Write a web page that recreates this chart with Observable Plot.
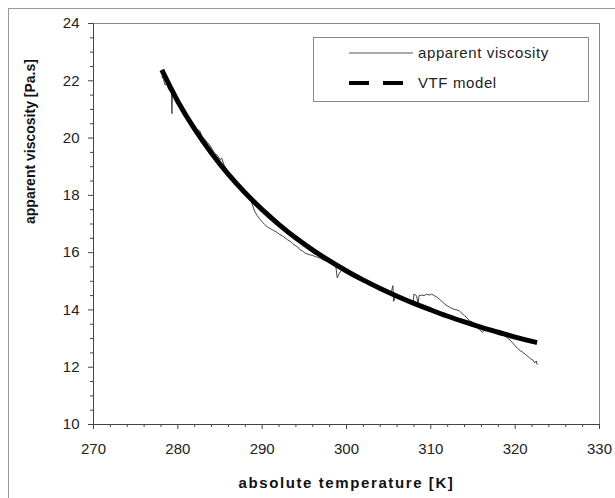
<!DOCTYPE html>
<html>
<head>
<meta charset="utf-8">
<script src="https://cdn.jsdelivr.net/npm/d3@7"></script>
<script src="https://cdn.jsdelivr.net/npm/@observablehq/plot@0.6"></script>
<style>
  html, body { margin: 0; padding: 0; background: #fff; overflow: hidden; width: 615px; height: 498px; }
  #wrap { position: relative; width: 615px; height: 498px; }
  #outer { position: absolute; left: 8px; top: 8px; width: 700px; height: 600px; border-left: 1px solid #999; border-top: 1px solid #999; }
  #chart { position: absolute; left: 0; top: 0; }
  #legend { position: absolute; left: 313px; top: 37px; width: 274px; height: 63px; border: 1px solid #888; background: #fff;
            font-family: "Liberation Sans", Arial, sans-serif; font-size: 15px; color: #222; letter-spacing: 0.6px; }
  #legend svg { position: absolute; left: 0; top: 0; }
</style>
</head>
<body>
<div id="wrap">
  <div id="outer"></div>
  <div id="chart"></div>
  <div id="legend"></div>
</div>
<script>
const tempK = [278.1,278.3,278.5,278.7,278.9,279.1,279.25,279.3,279.35,279.6,279.9,280.2,280.5,280.8,281.1,281.4,281.7,282.0,282.3,282.6,282.9,283.2,283.5,283.8,284.1,284.4,284.7,285.0,285.2,285.5,285.8,286.1,286.4,286.7,287.0,287.3,287.6,287.9,288.2,288.5,288.8,289.1,289.4,289.7,290.0,290.3,290.6,290.9,291.2,291.5,291.8,292.1,292.4,292.7,293.0,293.3,293.6,293.9,294.2,294.5,294.8,295.1,295.4,295.7,296.0,296.3,296.6,296.9,297.2,297.5,297.8,298.1,298.4,298.7,298.9,299.1,299.3,299.6,299.9,300.2,300.5,300.8,301.1,301.4,301.7,302.0,302.3,302.6,302.9,303.2,303.5,303.8,304.1,304.4,304.7,305.0,305.3,305.5,305.6,305.8,306.1,306.4,306.7,307.0,307.3,307.6,307.9,308.0,308.3,308.5,308.6,308.9,309.2,309.5,309.8,310.1,310.4,310.7,311.0,311.3,311.6,311.9,312.2,312.5,312.8,313.1,313.4,313.7,314.0,314.3,314.6,314.9,315.2,315.5,315.8,316.1,316.4,316.7,317.0,317.3,317.6,317.9,318.2,318.5,318.8,319.1,319.4,319.7,320.0,320.3,320.6,320.9,321.2,321.5,321.8,322.1,322.3,322.5,322.6];
const viscosity = [22.15,22.05,21.85,21.9,21.7,21.65,21.6,20.85,21.55,21.5,21.35,21.2,21.05,20.95,20.8,20.65,20.5,20.4,20.3,20.25,20.05,19.95,19.85,19.75,19.6,19.45,19.4,19.25,19.3,19.05,18.9,18.75,18.6,18.5,18.4,18.3,18.2,18.1,18.0,17.95,17.7,17.45,17.3,17.18,17.08,16.98,16.9,16.85,16.8,16.75,16.7,16.63,16.58,16.52,16.45,16.4,16.32,16.25,16.2,16.1,16.05,15.98,15.95,15.92,15.9,15.86,15.84,15.8,15.75,15.72,15.7,15.68,15.66,15.6,15.12,15.25,15.35,15.42,15.38,15.3,15.25,15.2,15.15,15.1,15.05,15.02,14.98,14.95,14.9,14.87,14.82,14.78,14.75,14.7,14.66,14.62,14.6,14.85,14.3,14.5,14.45,14.4,14.38,14.35,14.32,14.28,14.25,14.55,14.5,14.2,14.5,14.52,14.5,14.55,14.52,14.55,14.5,14.45,14.38,14.3,14.22,14.15,14.1,14.05,14.02,14.0,13.96,13.88,13.8,13.72,13.62,13.58,13.5,13.4,13.3,13.22,13.3,13.28,13.25,13.22,13.2,13.16,13.14,13.12,13.08,13.02,12.95,12.85,12.75,12.65,12.58,12.52,12.45,12.38,12.3,12.25,12.15,12.22,12.1];

// VTF model curve
const modelT = [278.1,280,282,284,286,288,290,292,294,296,298,300,302,304,306,308,310,312,314,316,318,320,322,322.6];
const modelEta = [22.38,21.28,20.31,19.47,18.73,18.08,17.50,16.98,16.51,16.09,15.71,15.36,15.04,14.75,14.48,14.23,14.00,13.78,13.58,13.39,13.22,13.05,12.90,12.86];

const xTicks = [270,280,290,300,310,320,330];
const yTicks = [10,12,14,16,18,20,22,24];
const xMinor = [272,274,276,278,282,284,286,288,292,294,296,298,302,304,306,308,312,314,316,318,322,324,326,328];
const yMinor = [10.5,11,11.5,12.5,13,13.5,14.5,15,15.5,16.5,17,17.5,18.5,19,19.5,20.5,21,21.5,22.5,23,23.5];

const xTitle = "absolute temperature [K]";
const yTitle = "apparent viscosity [Pa.s]";
const seriesNames = ["apparent viscosity", "VTF model"];

const measured = tempK.map((t, i) => ({t, v: viscosity[i]}));
const model = modelT.map((t, i) => ({t, v: modelEta[i]}));

const chart = Plot.plot({
  width: 615,
  height: 498,
  marginLeft: 93,
  marginRight: 16,
  marginTop: 23,
  marginBottom: 74,
  x: {domain: [270, 330], label: null},
  y: {domain: [10, 24], label: null},
  style: {fontFamily: "'Liberation Sans', Arial, sans-serif", fontSize: "15px", color: "#222", background: "transparent", overflow: "visible"},
  marks: [
    Plot.ruleY([24], {stroke: "#888", strokeWidth: 1}),
    Plot.ruleX([330], {stroke: "#888", strokeWidth: 1}),
    Plot.axisX(xMinor, {tickSize: 3, tickFormat: () => "", label: null, stroke: "#444"}),
    Plot.axisY(yMinor, {tickSize: 3, tickFormat: () => "", label: null, stroke: "#444"}),
    Plot.axisX(xTicks, {tickSize: 5, tickPadding: 14, label: null, stroke: "#444"}),
    Plot.axisY(yTicks, {tickSize: 5, tickPadding: 9, label: null, stroke: "#444"}),
    Plot.ruleX([270], {stroke: "#444", strokeWidth: 1}),
    Plot.ruleY([10], {stroke: "#444", strokeWidth: 1}),
    Plot.line(measured, {x: "t", y: "v", stroke: "#444", strokeWidth: 1}),
    Plot.line(model, {x: "t", y: "v", stroke: "#000", strokeWidth: 5, strokeLinecap: "butt", curve: "catmull-rom"}),
    Plot.text([xTitle], {frameAnchor: "bottom", dy: 63, fontWeight: "bold", fontSize: 15, fill: "#111"}),
    Plot.text([yTitle], {frameAnchor: "left", dx: -63, rotate: -90, fontWeight: "bold", fontSize: 14, fill: "#111"})
  ]
});
d3.select(chart).selectAll("text").filter(function() { return this.textContent === xTitle; }).attr("letter-spacing", "1.6px");
document.getElementById("chart").appendChild(chart);

// legend (inside the plot area)
const lg = d3.select("#legend").append("svg").attr("width", 274).attr("height", 63);
lg.append("line").attr("x1", 35).attr("x2", 99).attr("y1", 15).attr("y2", 15).attr("stroke", "#555").attr("stroke-width", 1);
lg.append("line").attr("x1", 35).attr("x2", 92).attr("y1", 45).attr("y2", 45).attr("stroke", "#000").attr("stroke-width", 4).attr("stroke-dasharray", "20,14");
lg.append("text").attr("x", 104).attr("y", 20).text(seriesNames[0]).attr("fill", "#222");
lg.append("text").attr("x", 104).attr("y", 50).text(seriesNames[1]).attr("fill", "#222");
</script>
</body>
</html>
